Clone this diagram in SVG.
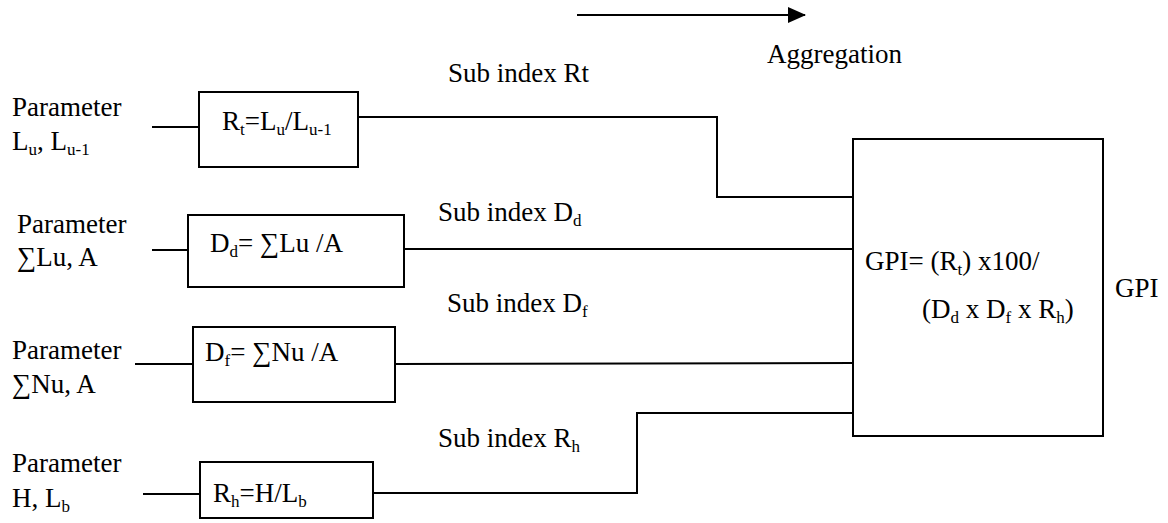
<svg xmlns="http://www.w3.org/2000/svg" width="1168" height="523" viewBox="0 0 1168 523">
<defs>
<style>
text{font-family:"Liberation Serif","Times New Roman",serif;font-size:27px;fill:#000}
.sub{font-size:17px}
.box{fill:none;stroke:#000;stroke-width:2}
.wire{fill:none;stroke:#000;stroke-width:2}
</style>
<marker id="ah" markerWidth="18" markerHeight="16" refX="17" refY="8" orient="auto" markerUnits="userSpaceOnUse">
<path d="M0,0 L18,8 L0,16 Z" fill="#000"/>
</marker>
</defs>
<rect width="1168" height="523" fill="#fff"/>

<g id="aggregation">
<line x1="577" y1="15" x2="805" y2="15" stroke="#000" stroke-width="2" marker-end="url(#ah)"/>
<text x="767" y="63">Aggregation</text>
</g>

<g id="param1">
<text x="12" y="116">Parameter</text>
<text x="12" y="150">L<tspan class="sub" dy="5">u</tspan><tspan dy="-5">, L</tspan><tspan class="sub" dy="5">u-1</tspan></text>
</g>
<g id="param2">
<text x="17" y="233">Parameter</text>
<text x="17" y="266">∑Lu, A</text>
</g>
<g id="param3">
<text x="12" y="359">Parameter</text>
<text x="12" y="393">∑Nu, A</text>
</g>
<g id="param4">
<text x="12" y="472">Parameter</text>
<text x="12" y="507">H, L<tspan class="sub" dy="5">b</tspan></text>
</g>

<g id="box-rt">
<rect class="box" x="199" y="92" width="159" height="75"/>
<text x="222" y="130">R<tspan class="sub" dy="5">t</tspan><tspan dy="-5">=L</tspan><tspan class="sub" dy="5">u</tspan><tspan dy="-5">/L</tspan><tspan class="sub" dy="5">u-1</tspan></text>
</g>
<g id="box-dd">
<rect class="box" x="188" y="215" width="216" height="72"/>
<text x="210" y="252">D<tspan class="sub" dy="5">d</tspan><tspan dy="-5">= ∑Lu /A</tspan></text>
</g>
<g id="box-df">
<rect class="box" x="193" y="327" width="202" height="75"/>
<text x="205" y="361">D<tspan class="sub" dy="5">f</tspan><tspan dy="-5">= ∑Nu /A</tspan></text>
</g>
<g id="box-rh">
<rect class="box" x="200" y="462" width="173" height="56"/>
<text x="213" y="502">R<tspan class="sub" dy="5">h</tspan><tspan dy="-5">=H/L</tspan><tspan class="sub" dy="5">b</tspan></text>
</g>

<g id="gpi">
<rect class="box" x="853" y="139" width="250" height="297"/>
<text x="865" y="270">GPI= (R<tspan class="sub" dy="5">t</tspan><tspan dy="-5">) x100/</tspan></text>
<text x="922" y="318">(D<tspan class="sub" dy="5">d</tspan><tspan dy="-5"> x D</tspan><tspan class="sub" dy="5">f</tspan><tspan dy="-5"> x R</tspan><tspan class="sub" dy="5">h</tspan><tspan dy="-5">)</tspan></text>
</g>
<g id="gpi-out">
<text x="1115" y="297">GPI</text>
</g>

<g id="labels">
<text x="448" y="82">Sub index Rt</text>
<text x="438" y="221">Sub index D<tspan class="sub" dy="5">d</tspan></text>
<text x="447" y="312">Sub index D<tspan class="sub" dy="5">f</tspan></text>
<text x="438" y="447">Sub index R<tspan class="sub" dy="5">h</tspan></text>
</g>

<g id="connectors">
<path class="wire" d="M152,127 H199"/>
<path class="wire" d="M152,250 H188"/>
<path class="wire" d="M135,364 H193"/>
<path class="wire" d="M143,494 H200"/>
<path class="wire" d="M358,117 H717 V197 H853"/>
<path class="wire" d="M404,249 H853"/>
<path class="wire" d="M395,364 L853,363"/>
<path class="wire" d="M373,493 H637 V413 H853"/>
</g>
</svg>
